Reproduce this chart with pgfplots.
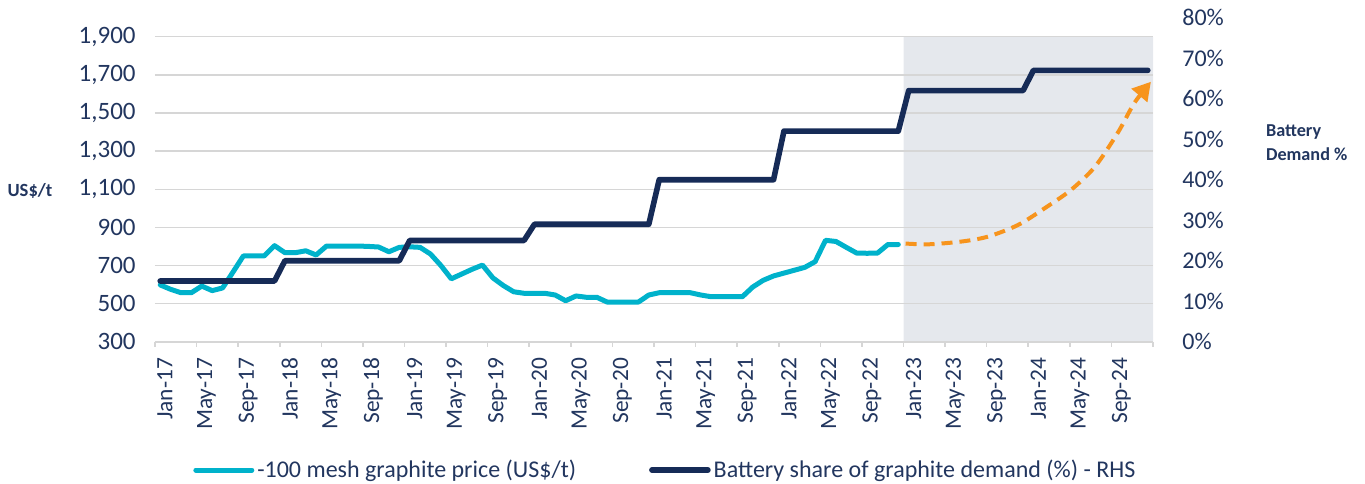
\documentclass[border=0pt]{standalone}
\usepackage{pgfplots}
\pgfplotsset{compat=1.18}
\usepackage{pgfplotstable}
\usepackage{fontspec}
\setmainfont{Carlito}
\usetikzlibrary{arrows.meta}

\definecolor{cyanline}{HTML}{00B2CB}
\definecolor{navyline}{HTML}{162B57}
\definecolor{txt}{HTML}{22365F}
\definecolor{fcst}{HTML}{F7941D}
\definecolor{shade}{HTML}{E5E8ED}
\definecolor{gridc}{HTML}{D6D6D6}

% monthly points sit in the middle of each month (Excel "between tick marks")
\pgfplotstableread{
x price
0.5 598
1.5 575
2.5 557
3.5 557
4.5 592
5.5 568
6.5 582
7.5 665
8.5 750
9.5 750
10.5 750
11.5 804
12.5 767
13.5 767
14.5 777
15.5 755
16.5 802
17.5 802
18.5 802
19.5 802
20.5 800
21.5 797
22.5 772
23.5 795
24.5 798
25.5 795
26.5 760
27.5 700
28.5 630
29.5 655
30.5 680
31.5 702
32.5 635
33.5 595
34.5 562
35.5 554
36.5 554
37.5 554
38.5 545
39.5 515
40.5 540
41.5 533
42.5 533
43.5 508
44.5 508
45.5 508
46.5 508
47.5 545
48.5 557
49.5 557
50.5 557
51.5 557
52.5 545
53.5 536
54.5 536
55.5 536
56.5 536
57.5 587
58.5 622
59.5 645
60.5 660
61.5 675
62.5 690
63.5 720
64.5 832
65.5 826
66.5 795
67.5 765
68.5 764
69.5 765
70.5 810
71.5 810
}\pricetable

\pgfplotstableread{
x share
0.5 15
11.5 15
12.5 20
23.5 20
24.5 25
35.5 25
36.5 29
47.5 29
48.5 40
59.5 40
60.5 52
71.5 52
72.5 62
83.5 62
84.5 67
95.5 67
}\sharetable

\pgfplotstableread{
x y
72.2 815
74.4 811
77.5 825
80.1 851
83.0 912
85.6 1001
88.1 1096
90.4 1217
92.6 1395
94.2 1552
95.8 1664
}\arrowtable

\begin{document}
\begin{tikzpicture}
\begin{axis}[
    set layers,
    scale only axis, width=499pt, height=162pt,
    xmin=0, xmax=96, ymin=300, ymax=2000,
    axis x line*=bottom, axis y line*=left,
    y axis line style={draw=none},
    x axis line style={gridc, line width=0.8pt},
    tick align=outside, major tick length=2.5pt,
    xtick={0,4,...,96},
    xticklabels={Jan-17,May-17,Sep-17,Jan-18,May-18,Sep-18,Jan-19,May-19,Sep-19,Jan-20,May-20,Sep-20,Jan-21,May-21,Sep-21,Jan-22,May-22,Sep-22,Jan-23,May-23,Sep-23,Jan-24,May-24,Sep-24,{}},
    xtick style={gridc, line width=0.8pt},
    xticklabel style={rotate=90, anchor=east, inner sep=0pt, yshift=-5pt, xshift=-5.5pt,
        font=\fontsize{11.7}{13}\selectfont, text=txt},
    ytick={300,500,...,1900},
    ytick style={draw=none},
    yticklabel style={inner sep=0pt, xshift=-7pt, font=\fontsize{12.5}{14}\selectfont, text=txt},
    /pgf/number format/.cd, 1000 sep={,}, assume math mode=true, /pgfplots/.cd,
    ymajorgrids, grid style={gridc, line width=0.7pt},
    legend columns=2,
    legend cell align=left,
    legend image code/.code={\draw[#1, line cap=round] (0pt,0pt) -- (28pt,0pt);},
    legend style={at={(0.038,-0.396)}, anchor=west, draw=none, fill=none, inner sep=0pt,
        font=\fontsize{12}{14}\selectfont, text=txt, nodes={inner xsep=1.5pt, inner ysep=0pt},
        /tikz/every even column/.append style={column sep=35pt}},
]
\addplot[fill=shade, draw=none, forget plot, on layer=axis background]
    coordinates {(72,300) (72,1900) (96,1900) (96,300)} \closedcycle;
\addplot[cyanline, line width=2.5pt, line cap=round, line join=round]
    table[x=x, y=price] {\pricetable};
\addlegendentry{-100 mesh graphite price (US\$/t)}
\addlegendimage{navyline, line width=2.8pt}
\addlegendentry{Battery share of graphite demand (\%) - RHS}
\addplot[fcst, line width=2pt, dash pattern=on 5.5pt off 3.5pt, smooth, forget plot,
    -{Triangle[length=9pt, width=10pt]}]
    table[x=x, y=y] {\arrowtable};
\end{axis}

\begin{axis}[
    scale only axis, width=499pt, height=162pt,
    xmin=0, xmax=96, ymin=0, ymax=80,
    axis y line*=right, axis x line=none,
    y axis line style={draw=none},
    ytick={0,10,...,80}, ytick style={draw=none},
    yticklabel={\pgfmathprintnumber{\tick}\%},
    yticklabel style={anchor=west, inner sep=0pt, xshift=14.5pt,
        font=\fontsize{12}{14}\selectfont, text=txt},
    /pgf/number format/assume math mode=true,
]
\addplot[navyline, line width=2.8pt, line cap=round, line join=round]
    table[x=x, y=share] {\sharetable};
\end{axis}

\node[anchor=base, font=\bfseries\fontsize{9.3}{11}\selectfont, text=txt] at (-62.5pt,72.85pt) {US\$/t};
\node[anchor=base west, font=\bfseries\fontsize{9.1}{11}\selectfont, text=txt] at (552pt,102.5pt) {Battery};
\node[anchor=base west, font=\bfseries\fontsize{9.1}{11}\selectfont, text=txt] at (552pt,90.85pt) {Demand \%};

\pgfresetboundingbox
\path[use as bounding box] (-77.5pt,-70.65pt) rectangle (605pt,170.85pt);
\end{tikzpicture}
\end{document}
